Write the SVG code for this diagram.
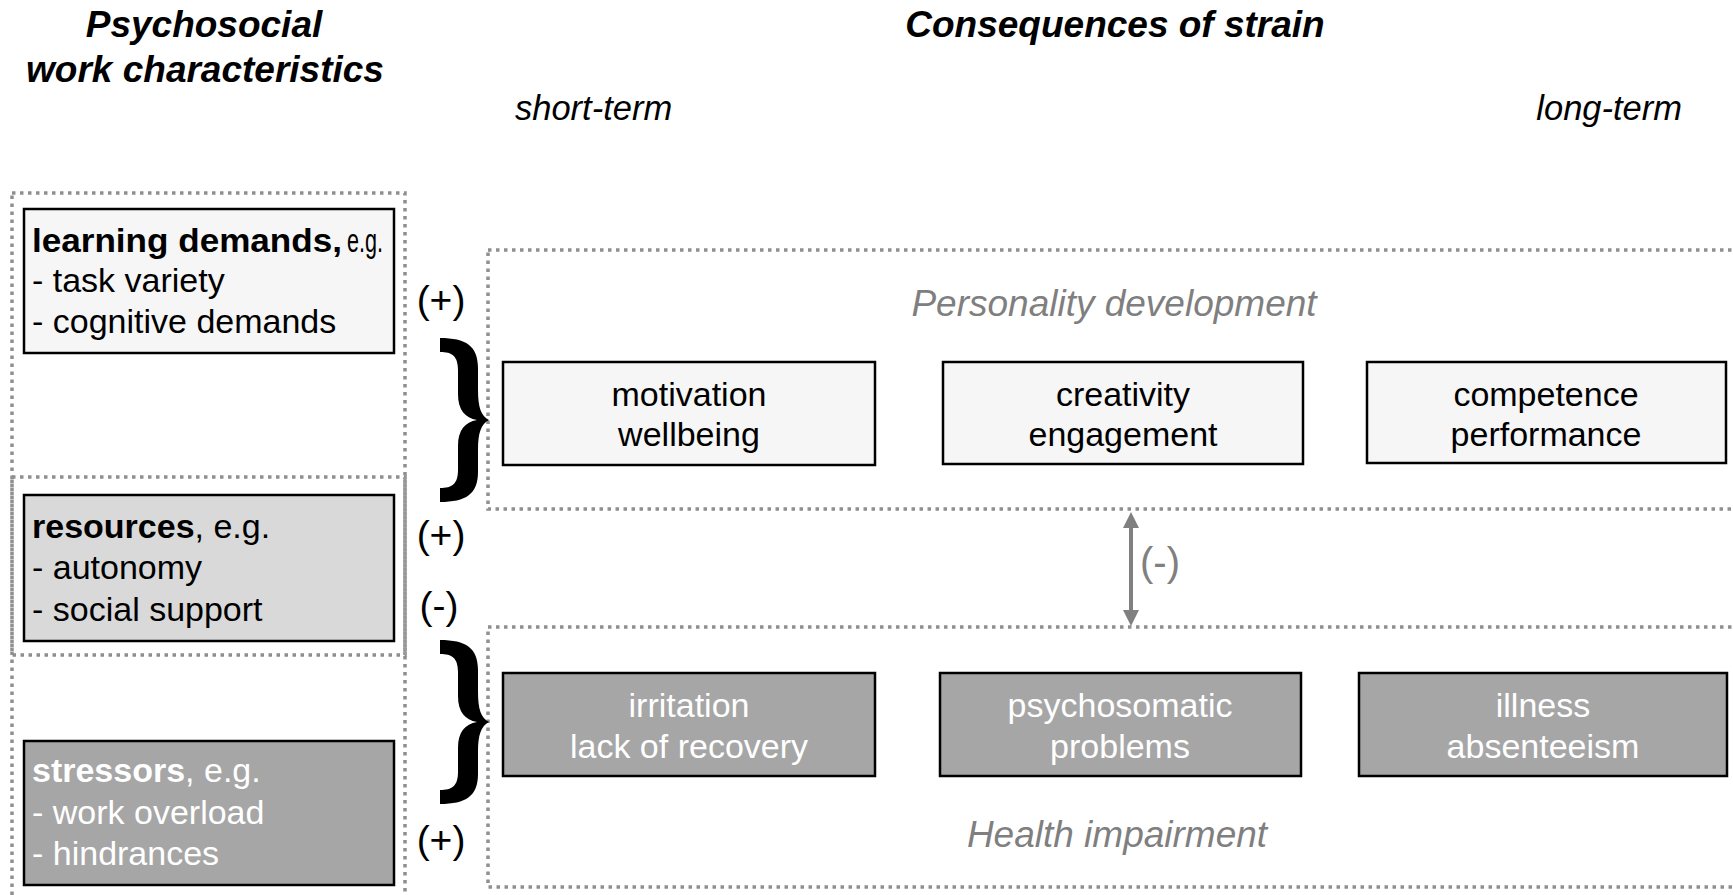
<svg xmlns="http://www.w3.org/2000/svg" xmlns:xlink="http://www.w3.org/1999/xlink" width="1733" height="895" viewBox="0 0 1733 895">
<style>
text{font-family:"Liberation Sans",Arial,sans-serif;}
.h{font-size:37px;font-weight:bold;font-style:italic;fill:#000;}
.sub{font-size:34.5px;font-style:italic;fill:#000;}
.t{font-size:34px;fill:#000;}
.w{font-size:34px;fill:#fff;}
.b{font-weight:bold;}
.g{font-size:37px;font-style:italic;fill:#7f7f7f;}
.sign{font-size:39px;fill:#000;text-anchor:middle;}
.mid{text-anchor:middle;}
.dot{fill:none;stroke:#8f8f8f;stroke-width:3.5;stroke-dasharray:3.5 4.5;}
.light{fill:#f6f6f6;stroke:#000;stroke-width:2.5;}
.res{fill:#d9d9d9;stroke:#000;stroke-width:2.5;}
.dark{fill:#a6a6a6;stroke:#000;stroke-width:2.5;}
</style>
<defs>
<path id="brace" d="M0,-82 C26,-82 38,-74 38,-52 L38,-30 C38,-13 41,-4 49,0 C41,4 38,13 38,30 L38,52 C38,74 26,82 0,82 L0,68 C12,68 18,64 18,50 L18,26 C18,10 25,2 37,0 C25,-2 18,-10 18,-26 L18,-50 C18,-64 12,-68 0,-68 Z" fill="#000"/>
</defs>
<rect width="1733" height="895" fill="#fff"/>

<g id="headers">
<text class="h mid" x="204" y="37">Psychosocial</text>
<text class="h mid" x="205" y="82">work characteristics</text>
<text class="h mid" x="1115" y="37">Consequences of strain</text>
<text class="sub" x="515" y="120">short-term</text>
<text class="sub" x="1682" y="120" text-anchor="end">long-term</text>
</g>

<g id="groups">
<rect class="dot" x="12" y="193" width="393" height="710"/>
<rect class="dot" x="12" y="477" width="393" height="178"/>
<line x1="405" y1="477" x2="405" y2="655" stroke="#999" stroke-width="3"/>
<rect class="dot" x="488" y="250" width="1260" height="259"/>
<rect class="dot" x="488" y="627" width="1260" height="260"/>
<text class="g mid" x="1114" y="316">Personality development</text>
<text class="g mid" x="1117" y="847">Health impairment</text>
</g>

<g id="learning">
<rect class="light" x="24" y="209" width="370" height="144"/>
<text class="t b" x="32" y="252" textLength="310" lengthAdjust="spacingAndGlyphs">learning demands,</text>
<text class="t" x="347" y="252" textLength="36" lengthAdjust="spacingAndGlyphs">e.g.</text>
<text class="t" x="32" y="292">- task variety</text>
<text class="t" x="32" y="333">- cognitive demands</text>
</g>

<g id="resources">
<rect class="res" x="24" y="495" width="370" height="146"/>
<text class="t" x="32" y="538"><tspan class="b">resources</tspan>, e.g.</text>
<text class="t" x="32" y="579">- autonomy</text>
<text class="t" x="32" y="621">- social support</text>
</g>

<g id="stressors">
<rect class="dark" x="24" y="741" width="370" height="144"/>
<text class="w" x="32" y="782"><tspan class="b">stressors</tspan>, e.g.</text>
<text class="w" x="32" y="824">- work overload</text>
<text class="w" x="32" y="865">- hindrances</text>
</g>

<g id="motivation">
<rect class="light" x="503" y="362" width="372" height="103"/>
<text class="t mid" x="689" y="406">motivation</text>
<text class="t mid" x="689" y="446">wellbeing</text>
</g>
<g id="creativity">
<rect class="light" x="943" y="362" width="360" height="102"/>
<text class="t mid" x="1123" y="406">creativity</text>
<text class="t mid" x="1123" y="446">engagement</text>
</g>
<g id="competence">
<rect class="light" x="1367" y="362" width="359" height="101"/>
<text class="t mid" x="1546" y="406">competence</text>
<text class="t mid" x="1546" y="446">performance</text>
</g>

<g id="irritation">
<rect class="dark" x="503" y="673" width="372" height="103"/>
<text class="w mid" x="689" y="717">irritation</text>
<text class="w mid" x="689" y="758">lack of recovery</text>
</g>
<g id="psychosomatic">
<rect class="dark" x="940" y="673" width="361" height="103"/>
<text class="w mid" x="1120" y="717">psychosomatic</text>
<text class="w mid" x="1120" y="758">problems</text>
</g>
<g id="illness">
<rect class="dark" x="1359" y="673" width="368" height="103"/>
<text class="w mid" x="1543" y="717">illness</text>
<text class="w mid" x="1543" y="758">absenteeism</text>
</g>

<g id="connectors">
<use xlink:href="#brace" href="#brace" transform="translate(440,420)"/>
<use xlink:href="#brace" href="#brace" transform="translate(440,722)"/>
<text class="sign" x="441" y="313">(+)</text>
<text class="sign" x="441" y="548">(+)</text>
<text class="sign" x="439" y="619">(-)</text>
<text class="sign" x="441" y="853">(+)</text>
<line x1="1131" y1="526" x2="1131" y2="612" stroke="#808080" stroke-width="4"/>
<polygon points="1131,512 1123,528 1139,528" fill="#808080"/>
<polygon points="1131,626 1123,610 1139,610" fill="#808080"/>
<text x="1160" y="576" font-size="40" fill="#808080" text-anchor="middle">(-)</text>
</g>
</svg>
